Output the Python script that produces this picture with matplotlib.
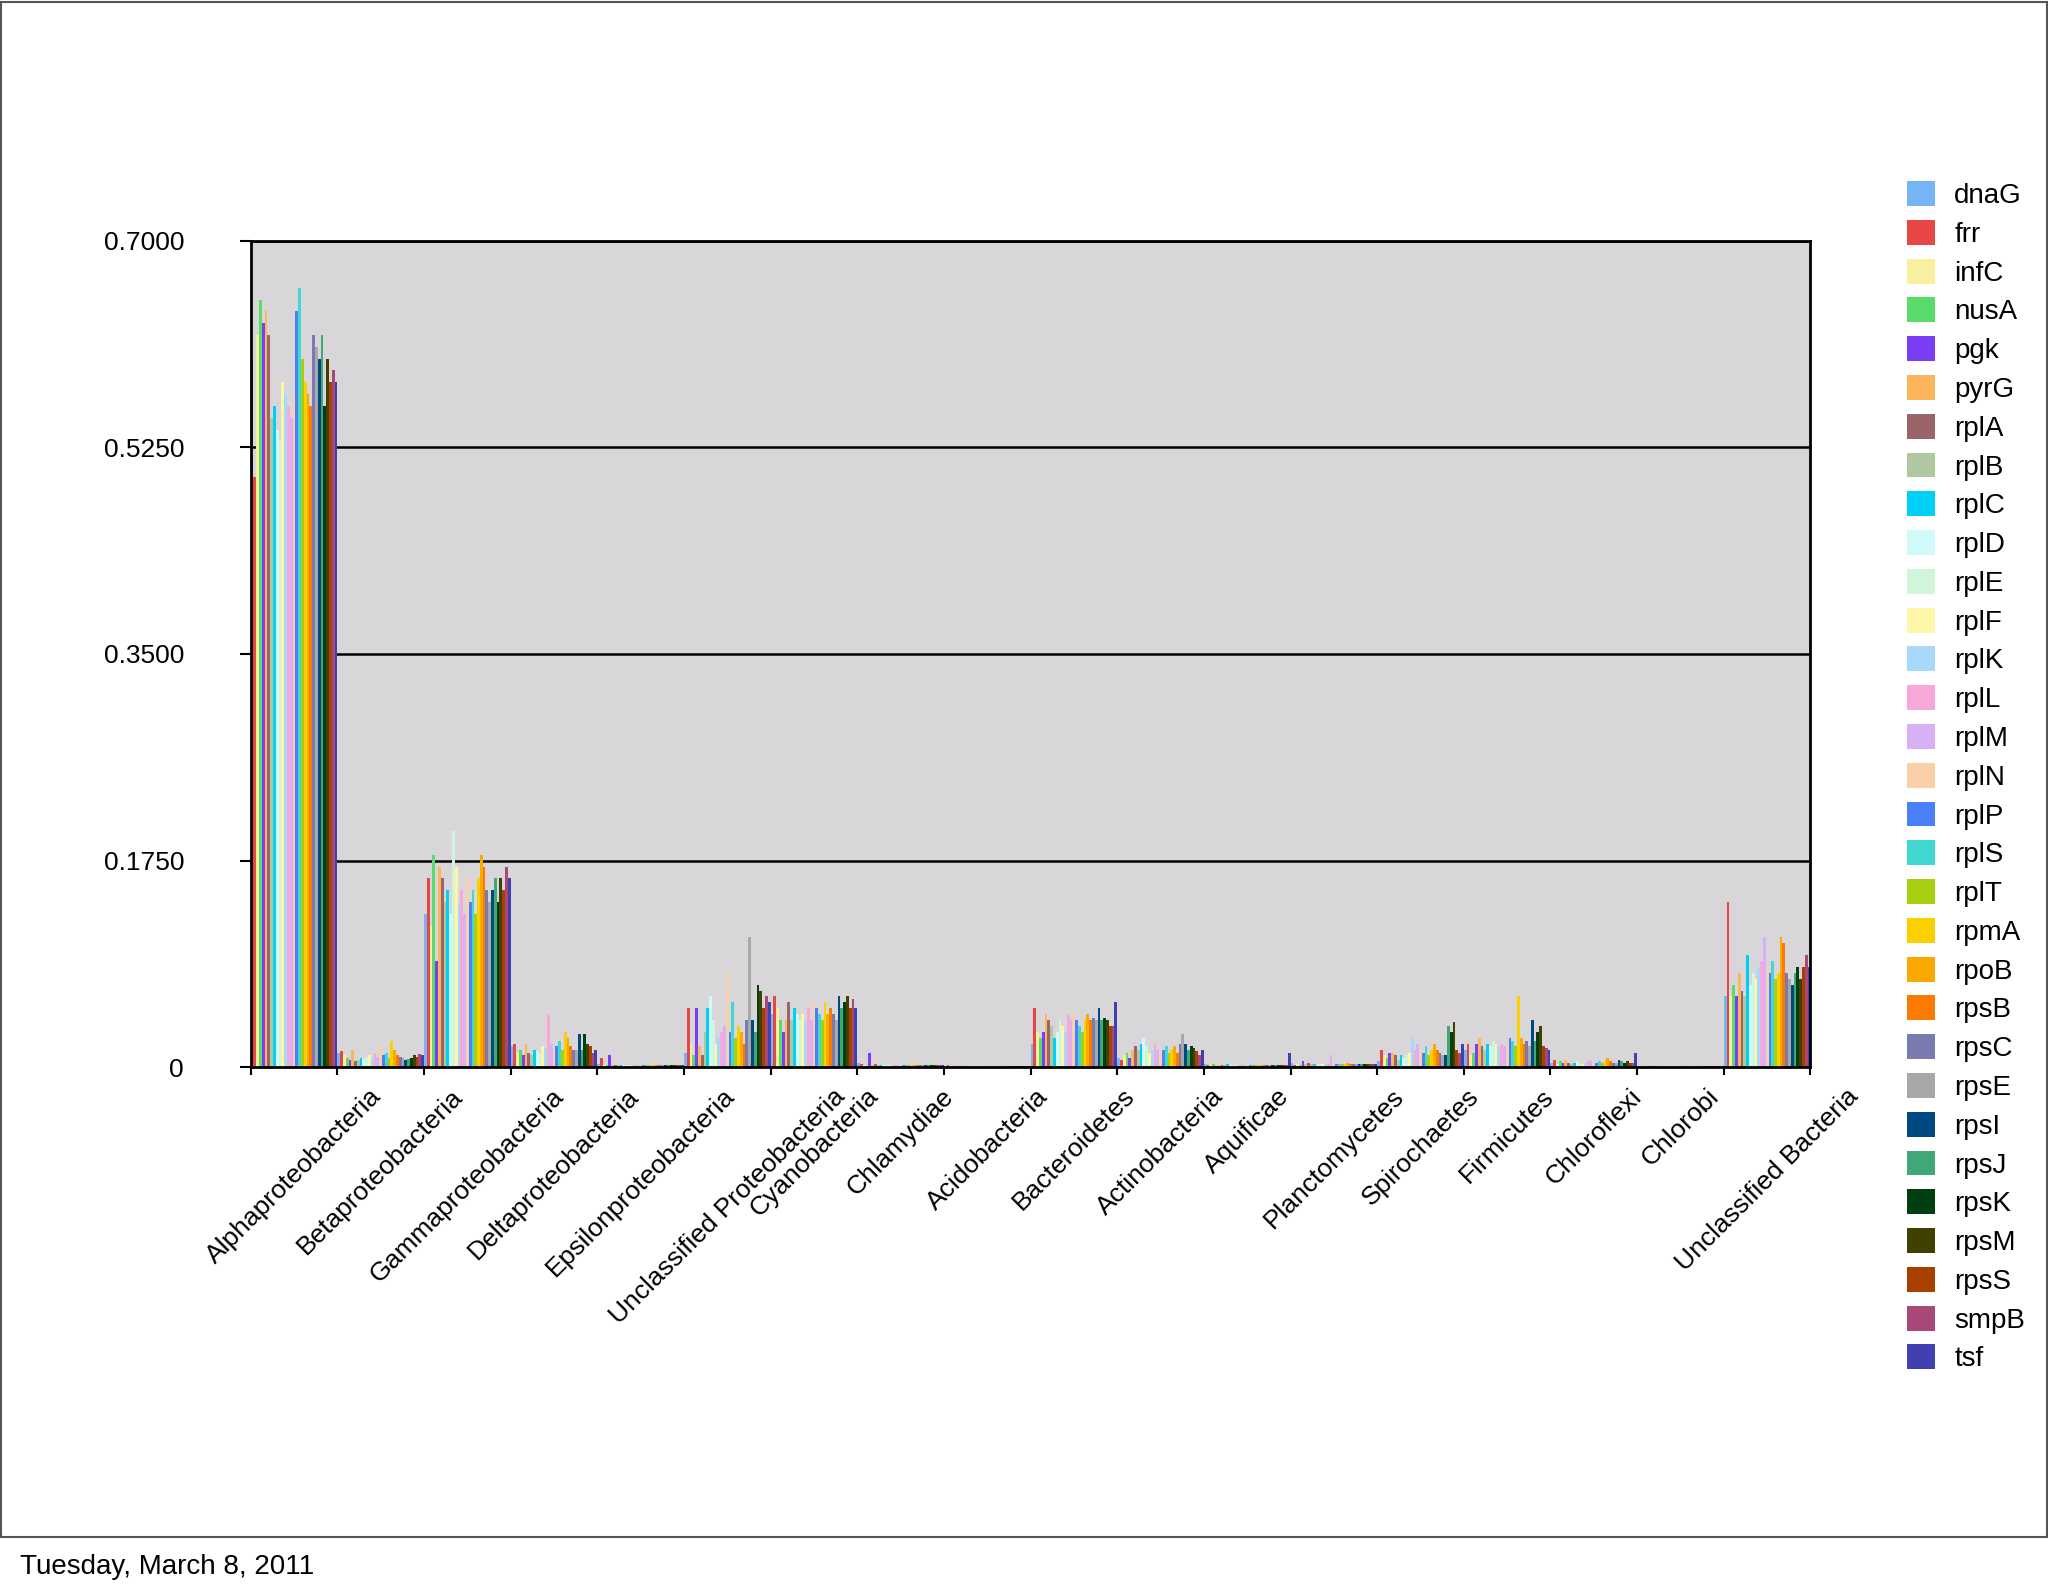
import matplotlib
matplotlib.use("Agg")
import matplotlib.pyplot as plt
import numpy as np
from matplotlib.patches import Rectangle

plt.rcParams['font.family'] = ['Liberation Sans', 'DejaVu Sans']

categories = ["Alphaproteobacteria", "Betaproteobacteria", "Gammaproteobacteria", "Deltaproteobacteria",
              "Epsilonproteobacteria", "Unclassified Proteobacteria", "Cyanobacteria", "Chlamydiae",
              "Acidobacteria", "Bacteroidetes", "Actinobacteria", "Aquificae", "Planctomycetes",
              "Spirochaetes", "Firmicutes", "Chloroflexi", "Chlorobi", "Unclassified Bacteria"]

dnaG = [0.60,0.012,0.13,0.018,0.003,0.012,0.045,0.004,0.001,0.020,0.008,0.003,0.004,0.005,0.015,0.004,0.001,0.060]
frr  = [0.50,0.014,0.16,0.020,0.008,0.050,0.060,0.003,0.002,0.050,0.006,0.002,0.002,0.015,0.020,0.006,0.001,0.140]
infC = [0.62,0.010,0.12,0.012,0.002,0.020,0.050,0.002,0.001,0.030,0.010,0.002,0.003,0.010,0.010,0.003,0.001,0.060]
nusA = [0.65,0.008,0.18,0.015,0.002,0.010,0.040,0.001,0.001,0.025,0.012,0.003,0.002,0.008,0.012,0.005,0.001,0.070]
pgk  = [0.63,0.006,0.09,0.010,0.010,0.050,0.030,0.012,0.001,0.030,0.008,0.001,0.005,0.012,0.020,0.004,0.001,0.060]
pyrG = [0.64,0.015,0.17,0.020,0.002,0.018,0.040,0.002,0.001,0.045,0.015,0.002,0.003,0.012,0.025,0.006,0.001,0.080]
rplA = [0.62,0.005,0.16,0.012,0.002,0.010,0.055,0.003,0.001,0.040,0.018,0.002,0.004,0.010,0.018,0.004,0.001,0.065]
rplB = [0.55,0.006,0.14,0.010,0.002,0.030,0.040,0.002,0.001,0.035,0.015,0.002,0.003,0.006,0.015,0.003,0.001,0.060]
rplC = [0.56,0.008,0.15,0.015,0.002,0.050,0.050,0.002,0.001,0.025,0.020,0.003,0.003,0.010,0.020,0.004,0.001,0.095]
rplD = [0.54,0.007,0.13,0.014,0.002,0.060,0.045,0.002,0.001,0.030,0.025,0.002,0.002,0.008,0.018,0.005,0.001,0.070]
rplE = [0.53,0.009,0.20,0.012,0.002,0.040,0.040,0.002,0.001,0.040,0.018,0.002,0.003,0.010,0.022,0.004,0.001,0.080]
rplF = [0.58,0.010,0.17,0.018,0.002,0.020,0.045,0.002,0.001,0.035,0.012,0.002,0.003,0.012,0.020,0.003,0.001,0.075]
rplK = [0.57,0.008,0.14,0.016,0.002,0.025,0.040,0.002,0.001,0.030,0.015,0.002,0.003,0.025,0.018,0.004,0.001,0.085]
rplL = [0.56,0.012,0.15,0.045,0.002,0.030,0.050,0.002,0.001,0.045,0.020,0.002,0.003,0.015,0.020,0.006,0.001,0.090]
rplM = [0.55,0.009,0.13,0.020,0.002,0.035,0.040,0.002,0.001,0.040,0.015,0.002,0.010,0.020,0.018,0.005,0.001,0.110]
rplN = [0.57,0.018,0.16,0.015,0.002,0.080,0.055,0.002,0.001,0.045,0.012,0.002,0.004,0.015,0.020,0.004,0.001,0.085]
rplP = [0.64,0.010,0.14,0.018,0.002,0.030,0.050,0.002,0.001,0.040,0.015,0.002,0.003,0.012,0.025,0.004,0.001,0.080]
rplS = [0.66,0.012,0.15,0.022,0.002,0.055,0.045,0.002,0.001,0.035,0.018,0.002,0.003,0.018,0.022,0.005,0.001,0.090]
rplT = [0.60,0.008,0.13,0.015,0.002,0.025,0.040,0.002,0.001,0.030,0.012,0.002,0.003,0.010,0.018,0.004,0.001,0.075]
rpmA = [0.58,0.022,0.16,0.030,0.002,0.035,0.055,0.002,0.001,0.040,0.015,0.002,0.003,0.015,0.060,0.005,0.001,0.080]
rpoB = [0.57,0.015,0.18,0.025,0.002,0.030,0.045,0.002,0.001,0.045,0.018,0.002,0.004,0.020,0.025,0.008,0.001,0.110]
rpsB = [0.56,0.010,0.17,0.018,0.002,0.020,0.050,0.002,0.001,0.040,0.012,0.002,0.003,0.015,0.020,0.005,0.001,0.105]
rpsC = [0.62,0.009,0.15,0.015,0.002,0.040,0.045,0.002,0.001,0.042,0.020,0.002,0.003,0.012,0.022,0.004,0.001,0.080]
rpsE = [0.61,0.008,0.14,0.015,0.002,0.110,0.040,0.002,0.001,0.040,0.028,0.002,0.003,0.010,0.018,0.004,0.001,0.075]
rpsI = [0.60,0.006,0.15,0.028,0.002,0.040,0.060,0.002,0.001,0.050,0.020,0.002,0.003,0.010,0.040,0.006,0.001,0.070]
rpsJ = [0.62,0.007,0.16,0.015,0.002,0.030,0.050,0.002,0.001,0.040,0.015,0.002,0.003,0.035,0.022,0.005,0.001,0.080]
rpsK = [0.56,0.008,0.14,0.028,0.002,0.070,0.055,0.002,0.001,0.042,0.018,0.002,0.003,0.030,0.030,0.004,0.001,0.085]
rpsM = [0.60,0.010,0.16,0.020,0.002,0.065,0.060,0.002,0.001,0.040,0.016,0.002,0.003,0.038,0.035,0.005,0.001,0.075]
rpsS = [0.58,0.009,0.15,0.018,0.002,0.050,0.050,0.002,0.001,0.035,0.014,0.002,0.003,0.015,0.018,0.004,0.001,0.085]
smpB = [0.59,0.011,0.17,0.012,0.002,0.060,0.058,0.002,0.001,0.035,0.010,0.002,0.003,0.012,0.016,0.004,0.001,0.095]
tsf  = [0.58,0.010,0.16,0.015,0.002,0.055,0.050,0.002,0.001,0.055,0.015,0.012,0.003,0.020,0.015,0.012,0.001,0.085]

series_names = ["dnaG","frr","infC","nusA","pgk","pyrG","rplA","rplB","rplC","rplD","rplE","rplF","rplK",
                "rplL","rplM","rplN","rplP","rplS","rplT","rpmA","rpoB","rpsB","rpsC","rpsE","rpsI","rpsJ",
                "rpsK","rpsM","rpsS","smpB","tsf"]
series_values = [dnaG,frr,infC,nusA,pgk,pyrG,rplA,rplB,rplC,rplD,rplE,rplF,rplK,rplL,rplM,rplN,rplP,rplS,
                 rplT,rpmA,rpoB,rpsB,rpsC,rpsE,rpsI,rpsJ,rpsK,rpsM,rpsS,smpB,tsf]
colors = ["#75b5f5","#e84545","#f8f0a0","#5adc6a","#7a3ef5","#fbb55a","#9a6468","#b0c8a0","#00d0f5",
          "#d0fafa","#d0f5d8","#fdf5a8","#a8d8fa","#f8a8d8","#d8b0f5","#fad0a8","#4a80f8","#40d8d0",
          "#a8d010","#fad000","#fba800","#fb7a00","#7a7ab0","#a8a8a8","#004880","#40a878","#004010",
          "#404000","#a84000","#a84878","#4040b0"]
yticks = [0, 0.175, 0.35, 0.525, 0.7]
ytick_labels = ["0", "0.1750", "0.3500", "0.5250", "0.7000"]
date_text = "Tuesday, March 8, 2011"

fig = plt.figure(figsize=(20.48, 15.93), dpi=100)
ax = fig.add_axes([0.1224, 0.330, 0.7616, 0.519])
ax.set_facecolor("#d8d6d9")
ax.set_axisbelow(True)
ax.grid(axis="y", color="black", linewidth=1.8)

n = len(series_names)
w = 1.0 / n
x = np.arange(len(categories))
for j, (name, vals, c) in enumerate(zip(series_names, series_values, colors)):
    ax.bar(x + (j + 0.5) * w, vals, width=w, color=c, label=name, linewidth=0)

ax.set_xlim(0, len(categories))
ax.set_ylim(0, 0.7)
ax.set_yticks(yticks)
ax.set_yticklabels(ytick_labels, fontsize=19)
ax.set_xticks(x + 0.5)
ax.set_xticklabels(categories, rotation=45, ha="center", fontsize=19)
ax.set_xticks(np.arange(len(categories) + 1), minor=True)
ax.tick_params(axis="x", which="major", length=0, pad=12)
ax.tick_params(axis="x", which="minor", length=6, width=1.5)
ax.tick_params(axis="y", length=8, width=1.5, pad=40)
for s in ax.spines.values():
    s.set_linewidth(2)

handles, labels = ax.get_legend_handles_labels()
fig.legend(handles, labels, loc="upper left", bbox_to_anchor=(0.919, 0.902), frameon=False,
           fontsize=20, handlelength=1.0, handleheight=1.0, labelspacing=0.39, handletextpad=0.7)

fig.patches.append(Rectangle((0.0005, 0.035), 0.999, 0.964, transform=fig.transFigure,
                             fill=False, edgecolor="#555555", linewidth=1.5))
fig.text(0.0096, 0.012, date_text, fontsize=20)

fig.savefig("out.png", dpi=100)
